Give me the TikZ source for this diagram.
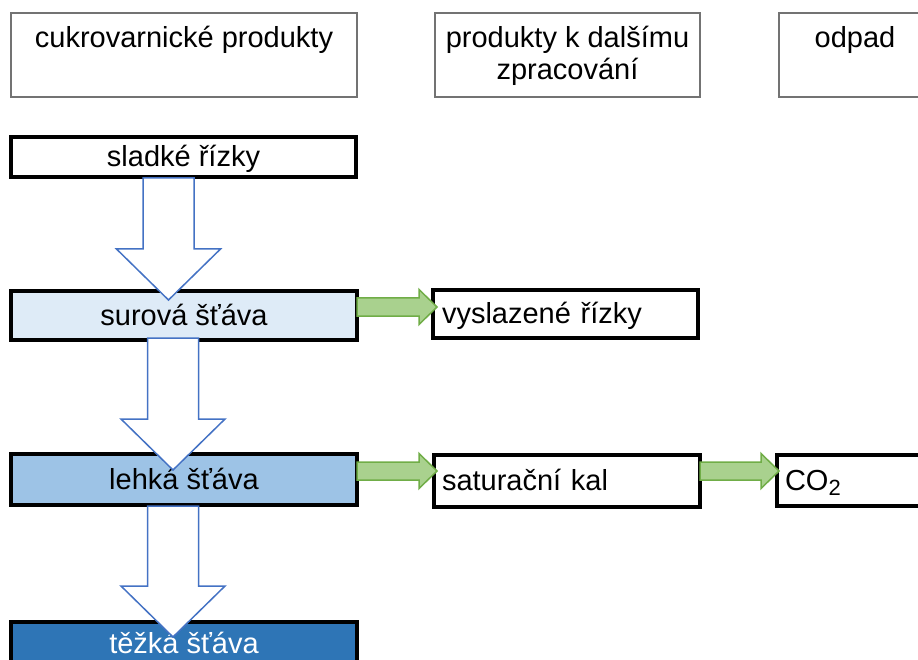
\documentclass[tikz,border=0pt]{standalone}
\usepackage{fontspec}
\setmainfont{Liberation Sans}
\usetikzlibrary{calc}

\definecolor{hdrgray}{gray}{0.45}
\definecolor{rawjuice}{HTML}{DEEBF7}
\definecolor{thinjuice}{HTML}{9DC3E6}
\definecolor{thickjuice}{HTML}{2E75B6}
\definecolor{flowblue}{HTML}{4472C4}
\definecolor{sidefill}{HTML}{A9D18E}
\definecolor{sideline}{HTML}{70AD47}

\tikzset{
  txt/.style={font=\fontsize{29}{31.5}\selectfont},
  hdr/.style={draw=hdrgray, line width=2, fill=white, inner sep=0, outer sep=0},
  hdrtext/.style={txt, anchor=north, inner sep=0, align=center},
  box/.style={txt, draw=black, line width=4, fill=white, inner sep=0, outer sep=0,
              text height=21pt, text depth=1.5pt},
  leftbox/.style={box, align=left, inner xsep=8},
  % hollow block arrow pointing down, from a start point to its tip
  downflow/.style={draw=flowblue, fill=white, line width=1.5, line join=miter,
    to path={++(-25.5,0) -- ($(\tikztotarget)+(-25.5,-51)$) -- ($(\tikztotarget)+(-52,-51)$)
      -- (\tikztotarget) -- ($(\tikztotarget)+(52,-51)$) -- ($(\tikztotarget)+(25.5,-51)$)
      -- ($(\tikztostart)+(25.5,0)$) -- cycle}},
  % filled block arrow pointing right, from a start point to its tip
  sideflow/.style={draw=sideline, fill=sidefill, line width=1.5, line join=miter,
    to path={++(0,-9) -- ($(\tikztotarget)+(-18,-9)$) -- ($(\tikztotarget)+(-18,-17.5)$)
      -- (\tikztotarget) -- ($(\tikztotarget)+(-18,17.5)$) -- ($(\tikztotarget)+(-18,9)$)
      -- ($(\tikztostart)+(0,9)$) -- cycle}},
}

\begin{document}
\begin{tikzpicture}[x=1pt, y=-1pt]
\useasboundingbox (0,0) rectangle (918,660);
\clip (0,0) rectangle (918,660);

% column headings
\node[hdr, minimum width=346, minimum height=84] (h1) at (184,55) {};
\node[hdr, minimum width=265, minimum height=84] (h2) at (567.5,55) {};
\node[hdr, minimum width=152, minimum height=84] (h3) at (855,55) {};
\node[hdrtext] (h1t) at ($(h1.north)+(0,13)$) {cukrovarnické produkty};
\node[hdrtext] (h2t) at ($(h2.north)+(0,13)$) {produkty k dalšímu\\zpracování};
\node[hdrtext] (h3t) at ($(h3.north)+(0,13)$) {odpad};

% sugar products
\node[box, minimum width=345, minimum height=40] (s1) at (183.5,157) {sladké řízky};
\node[box, fill=rawjuice, minimum width=346, minimum height=49] (s2) at (184,315.5) {surová šťáva};
\node[box, fill=thinjuice, minimum width=346, minimum height=51] (s3) at (184,479.5) {lehká šťáva};
\node[box, fill=thickjuice, text=white, minimum width=346, minimum height=44] (s4) at (184,644) {těžká šťáva};

% further processing and waste
\node[leftbox, inner xsep=9, minimum width=265, minimum height=48, text width=247] (v) at (565.5,314) {vyslazené řízky};
\node[leftbox, minimum width=266, minimum height=52, text width=250] (k) at (567,481) {saturační kal};
\node[leftbox, minimum width=262, minimum height=51, text width=246] (c) at (908,480.5)
  {CO\raisebox{-5pt}{\fontsize{22}{22}\selectfont 2}};

% main flow
\coordinate (a1) at ($(s1.south)+(-15,1)$);
\coordinate (a2) at ($(s2.south)+(-11,-2)$);
\coordinate (a3) at ($(s3.south)+(-11,1)$);
\draw[downflow] (a1) to ($(s2.north -| a1)+(0,9)$);
\draw[downflow] (a2) to ($(s3.north -| a2)+(0,16)$);
\draw[downflow] (a3) to ($(s4.north -| a3)+(0,15)$);

% side streams
\coordinate (g1) at ($(s2.east)+(0,-8.5)$);
\coordinate (g2) at ($(s3.east)+(0,-8.5)$);
\coordinate (g3) at ($(k.east |- g2)$);
\draw[sideflow] (g1) to ($(v.west |- g1)+(4,0)$);
\draw[sideflow] (g2) to ($(k.west |- g2)+(3,0)$);
\draw[sideflow] (g3) to ($(c.west |- g3)+(2,0)$);
\end{tikzpicture}
\end{document}
